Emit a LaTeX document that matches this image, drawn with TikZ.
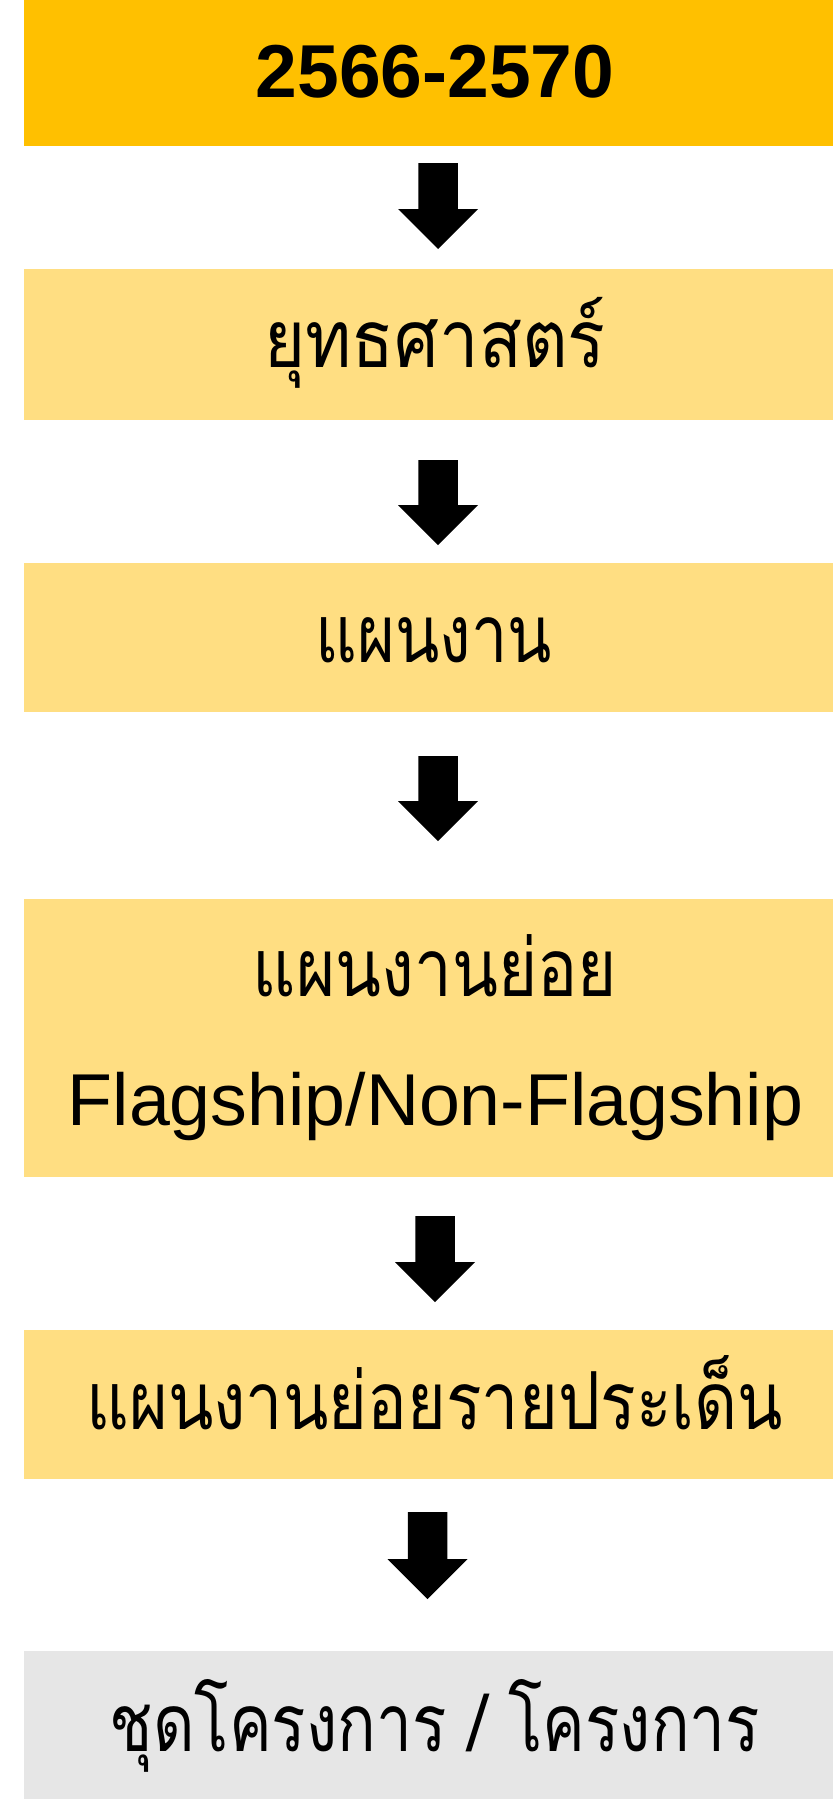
\documentclass[tikz,border=0pt]{standalone}
\usepackage{fontspec}
\usepackage{graphicx}
\setmainfont{Liberation Sans}
\newfontfamily\thaifont[Script=Thai]{Loma}
\usetikzlibrary{calc}
\definecolor{gold}{HTML}{FFC000}
\definecolor{lightgold}{HTML}{FFDE82}
\definecolor{lightgrey}{HTML}{E6E6E6}
\newcommand{\blockarr}[2]{%
  \fill[arrowfill] ($(#1)+(-19.75,0)$) -- ($(#1)+(19.75,0)$) -- ($(#2)+(19.75,-40)$)
    -- ($(#2)+(40,-40)$) -- (#2) -- ($(#2)+(-40,-40)$) -- ($(#2)+(-19.75,-40)$) -- cycle;}
\newcommand{\narrow}[2]{\scalebox{#1}[1]{#2}}
\begin{document}
\begin{tikzpicture}[x=1pt,y=-1pt,
  box/.style={rectangle, inner sep=0pt, outer sep=0pt, minimum width=809pt, draw=none},
  thai/.style={font=\thaifont\fontsize{80}{96}\selectfont, anchor=base, inner sep=0pt},
  latin/.style={font=\fontsize{73.5}{88}\selectfont, anchor=base, inner sep=0pt},
  year/.style={font=\bfseries\fontsize{75}{90}\selectfont, anchor=base, inner sep=0pt},
  arrowfill/.style={fill=black}]
\useasboundingbox (0,0) rectangle (833,1801);
\fill[white] (0,0) rectangle (833,1801);
% boxes
\node[box, fill=gold, minimum height=146pt] (b1) at (428.5,73) {};
\node[box, fill=lightgold, minimum height=151pt] (b2) at (428.5,344.5) {};
\node[box, fill=lightgold, minimum height=149pt] (b3) at (428.5,637.5) {};
\node[box, fill=lightgold, minimum height=278pt] (b4) at (428.5,1038) {};
\node[box, fill=lightgold, minimum height=149pt] (b5) at (428.5,1404.5) {};
\node[box, fill=lightgrey, minimum height=148pt] (b6) at (428.5,1725) {};
% texts
\node[year] (t1) at (435,97) {2566-2570};
\node[thai] (t2) at (435,367) {\narrow{0.88}{ยุทธศาสตร์}};
\node[thai] (t3) at (434,662) {\narrow{0.81}{แผนงาน}};
\node[thai] (t4a) at (435,996.6) {\narrow{0.84}{แผนงานย่อย}};
\node[latin] (t4b) at (435.5,1125) {Flagship/Non-Flagship};
\node[thai] (t5) at (434.5,1429) {\narrow{0.83}{แผนงานย่อยรายประเด็น}};
\node[thai] (t6) at (435,1751) {\narrow{0.80}{ชุดโครงการ / โครงการ}};
% arrows
\coordinate (a1s) at (438,163);  \coordinate (a1e) at (438,249);
\coordinate (a2s) at (438,460);  \coordinate (a2e) at (438,545);
\coordinate (a3s) at (438,756);  \coordinate (a3e) at (438,841);
\coordinate (a4s) at (435,1216); \coordinate (a4e) at (435,1302);
\coordinate (a5s) at (427.5,1512); \coordinate (a5e) at (427.5,1599);
\blockarr{a1s}{a1e}
\blockarr{a2s}{a2e}
\blockarr{a3s}{a3e}
\blockarr{a4s}{a4e}
\blockarr{a5s}{a5e}
\end{tikzpicture}
\end{document}
